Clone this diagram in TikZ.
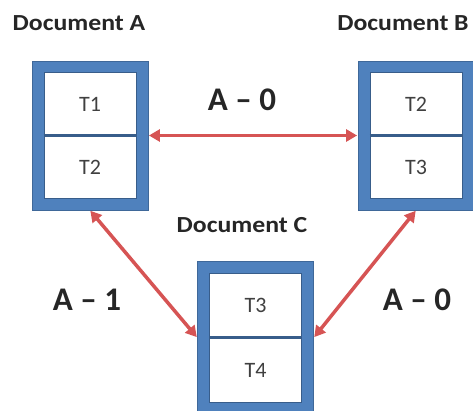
\documentclass[tikz,border=0pt]{standalone}
\usepackage{fontspec}
\setmainfont{Carlito}
\newfontfamily\docfont[FakeStretch=1.12]{Carlito}
\usetikzlibrary{arrows.meta,fit,backgrounds}
\definecolor{docblue}{RGB}{79,129,189}
\definecolor{docdark}{RGB}{56,93,138}
\definecolor{linkred}{RGB}{214,84,84}
\definecolor{txtgray}{RGB}{64,64,64}
\tikzset{
  cell/.style={draw=docdark, line width=1pt, fill=white, minimum width=92pt, minimum height=62pt, inner sep=0pt, font=\fontsize{22}{24}\selectfont, text=txtgray},
  frame/.style={draw=docdark!70!docblue, line width=0.8pt, fill=docblue, inner sep=11.5pt},
  divider/.style={draw=docdark, line width=2.5pt},
  doclabel/.style={font=\docfont\bfseries\fontsize{23}{25}\selectfont, text=black!85},
  wlabel/.style={font=\bfseries\fontsize{33}{35}\selectfont, text=black!85},
  link/.style={draw=linkred, line width=3.5pt, {Triangle[length=11pt,width=12pt]}-{Triangle[length=11pt,width=12pt]}, shorten <=0.5pt, shorten >=0.5pt}
}
\begin{document}
\begin{tikzpicture}[x=1pt,y=1pt]
\useasboundingbox (0,0) rectangle (473,410);
% Document A
\node[cell] (a1) at (90,306) {T1};
\node[cell, anchor=north] (a2) at (a1.south) {T2};
% Document B
\node[cell] (b1) at (416,306) {T2};
\node[cell, anchor=north] (b2) at (b1.south) {T3};
% Document C
\node[cell, minimum height=64pt] (c1) at (255.5,105) {T3};
\node[cell, minimum height=64pt, anchor=north] (c2) at (c1.south) {T4};
\begin{scope}[on background layer]
  \node[frame, fit=(a1)(a2)] (A) {};
  \node[frame, fit=(b1)(b2)] (B) {};
  \node[frame, fit=(c1)(c2)] (C) {};
\end{scope}
\draw[divider] (a1.south west) -- (a1.south east);
\draw[divider] (b1.south west) -- (b1.south east);
\draw[divider] (c1.south west) -- (c1.south east);
% titles
\node[doclabel] (ta) at (79,387) {Document A};
\node[doclabel] (tb) at (403,387) {Document B};
\node[doclabel] (tc) at (242,185) {Document C};
% connectors
\draw[link] (A.east) -- (B.west);
\draw[link] (A.south) -- (C.west);
\draw[link] (B.south) -- (C.east);
% weights
\node[wlabel] (w1) at (242,310) {A – 0};
\node[wlabel] (w2) at (87,110) {A – 1};
\node[wlabel] (w3) at (417,110) {A – 0};
\end{tikzpicture}
\end{document}
